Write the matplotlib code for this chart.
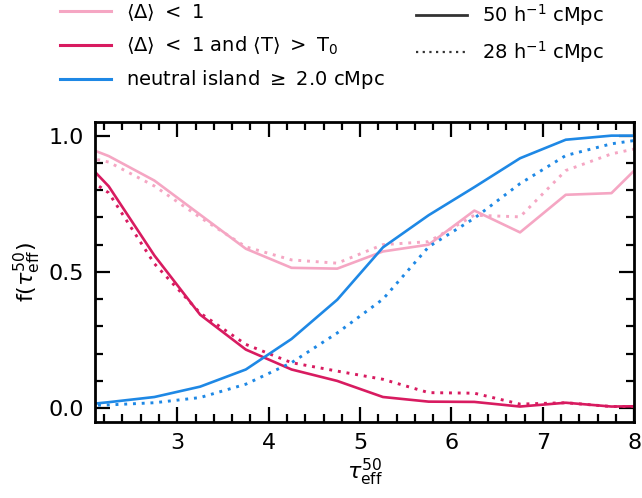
#!/usr/bin/env python3
"""
Fraction of sightlines per tau_eff bin that pass each selection, for two smoothing scales.
"""
import matplotlib
matplotlib.use("Agg")
import matplotlib.pyplot as plt
from matplotlib.lines import Line2D
from matplotlib.ticker import MultipleLocator

# bin centres in tau_eff^50 (outer ones fall outside the plotted range)
tau_bins = [1.75, 2.25, 2.75, 3.25, 3.75, 4.25, 4.75, 5.25, 5.75, 6.25, 6.75, 7.25, 7.75, 8.25]

# <Delta> < 1
delta_50 = [0.99, 0.925, 0.835, 0.71, 0.585, 0.515, 0.512, 0.575, 0.60, 0.725, 0.645, 0.783, 0.789, 0.955]
delta_28 = [0.94, 0.903, 0.815, 0.70, 0.592, 0.544, 0.532, 0.60, 0.611, 0.708, 0.702, 0.872, 0.933, 0.969]

# <Delta> < 1 and <T> > T0
delta_temp_50 = [0.99, 0.814, 0.56, 0.343, 0.215, 0.142, 0.10, 0.041, 0.024, 0.023, 0.006, 0.02, 0.006, 0.008]
delta_temp_28 = [0.905, 0.79, 0.53, 0.349, 0.234, 0.167, 0.136, 0.106, 0.057, 0.055, 0.015, 0.02, 0.006, 0.006]

# neutral island >= 2 cMpc
island_50 = [0.005, 0.022, 0.041, 0.079, 0.142, 0.254, 0.398, 0.59, 0.708, 0.811, 0.917, 0.985, 1.0, 1.0]
island_28 = [0.008, 0.012, 0.02, 0.039, 0.088, 0.167, 0.276, 0.40, 0.592, 0.697, 0.824, 0.927, 0.970, 0.994]

series_labels = [
    r"$\langle\Delta\rangle\ <\ 1$",
    r"$\langle\Delta\rangle\ <\ 1$ and $\langle\mathrm{T}\rangle\ >\ \mathrm{T}_0$",
    r"neutral island $\geq$ 2.0 cMpc",
]
scale_labels = [r"50 h$^{-1}$ cMpc", r"28 h$^{-1}$ cMpc"]

PINK = "#F5A6C3"
RED = "#D81B60"
BLUE = "#1E88E5"
DOTS = (0, (1.0, 2.0))


def main() -> int:
    plt.rcParams["mathtext.fontset"] = "dejavusans"
    plt.rcParams["font.size"] = 14

    fig = plt.figure(figsize=(6.42, 4.98), dpi=100)
    ax = fig.add_axes([0.148, 0.153, 0.840, 0.602])

    colors = [PINK, RED, BLUE]
    solid = [delta_50, delta_temp_50, island_50]
    dotted = [delta_28, delta_temp_28, island_28]
    for c, y50, y28 in zip(colors, solid, dotted):
        ax.plot(tau_bins, y50, color=c, lw=1.9, ls="-")
        ax.plot(tau_bins, y28, color=c, lw=2.1, ls=DOTS)

    ax.set_xlim(2.1, 8.0)
    ax.set_ylim(-0.05, 1.05)
    ax.xaxis.set_major_locator(MultipleLocator(1))
    ax.xaxis.set_minor_locator(MultipleLocator(0.2))
    ax.yaxis.set_major_locator(MultipleLocator(0.5))
    ax.yaxis.set_minor_locator(MultipleLocator(0.1))
    ax.tick_params(which="both", direction="in", top=True, right=True, width=1.6, labelsize=16)
    ax.tick_params(which="major", length=11, pad=8)
    ax.tick_params(which="minor", length=5.5)
    for s in ax.spines.values():
        s.set_linewidth(2.0)

    ax.set_xlabel(r"$\tau^{50}_{\rm eff}$", fontsize=16, labelpad=3)
    ax.set_ylabel(r"f($\tau^{50}_{\rm eff}$)", fontsize=16, labelpad=4)

    color_handles = [Line2D([], [], color=c, lw=2.2) for c in colors]
    style_handles = [
        Line2D([], [], color="0.2", lw=2.0, ls="-"),
        Line2D([], [], color="0.2", lw=1.6, ls=DOTS),
    ]
    leg_kw = dict(loc="upper left", frameon=False, fontsize=14, handlelength=2.6,
                  handletextpad=0.8, labelspacing=0.6, borderpad=0, borderaxespad=0)
    fig.legend(color_handles, series_labels, bbox_to_anchor=(60 / 642, 1 - 2 / 498), **leg_kw)
    fig.legend(style_handles, scale_labels, bbox_to_anchor=(416 / 642, 1 - 2 / 498), **leg_kw)

    fig.savefig("out.png", dpi=100)
    plt.close(fig)
    return 0


if __name__ == "__main__":
    raise SystemExit(main())
